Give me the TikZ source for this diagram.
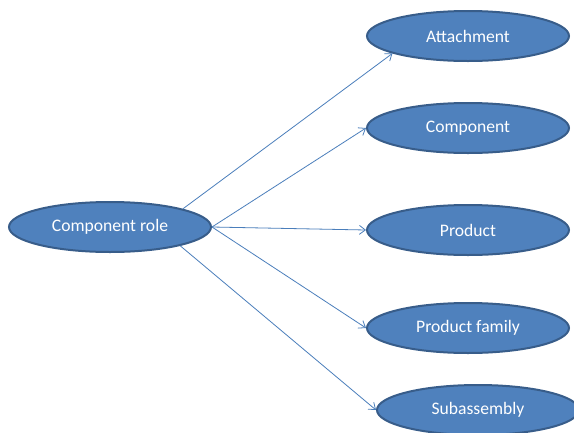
\documentclass[tikz,border=0pt]{standalone}
\usepackage{fontspec}
\setmainfont{Carlito}
\usetikzlibrary{shapes.geometric,arrows.meta}
\definecolor{ofill}{HTML}{4F81BD}
\definecolor{oline}{HTML}{385D8A}
\definecolor{conn}{HTML}{4A7EBB}
\begin{document}
\begin{tikzpicture}[x=1pt,y=-1pt,
  oval/.style={ellipse,draw=oline,fill=ofill,line width=2pt,text=white,
    minimum width=202pt,minimum height=50pt,inner sep=0pt,
    font=\fontsize{17.6}{20}\selectfont},
  link/.style={draw=conn,line width=0.8pt,-{Straight Barb[length=6pt,width=9pt]}}]
\useasboundingbox[fill=white] (0,0) rectangle (574,432);
\node[oval] (src) at (110,227) {Component role};
\node[oval] (att) at (468,36) {Attachment};
\node[oval] (com) at (468,128) {Component};
\node[oval] (pro) at (468,230) {Product};
\node[oval] (fam) at (468,328) {Product family};
\node[oval] (sub) at (478,410) {Subassembly};
\draw[link] (src.14) -- (att.193.5);
\draw[link] (src.east) -- (com.west);
\draw[link] (src.east) -- (pro.west);
\draw[link] (src.east) -- (fam.west);
\draw[link] (src.-15) -- (sub.west);
\end{tikzpicture}
\end{document}
